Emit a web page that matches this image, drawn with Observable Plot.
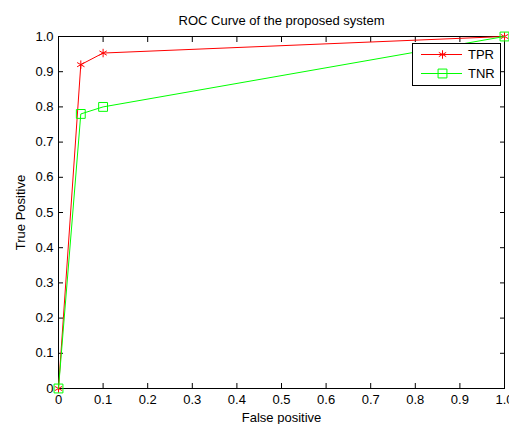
<!DOCTYPE html>
<html><head><meta charset="utf-8">
<script src="https://cdn.jsdelivr.net/npm/d3@7"></script>
<script src="https://cdn.jsdelivr.net/npm/@observablehq/plot@0.6"></script>
<style>
body{margin:0;background:#fff;}
#wrap{position:relative;width:509px;height:424px;font-family:"Liberation Sans",Arial,sans-serif;}
#legend{position:absolute;left:412px;top:43px;width:87px;height:41px;border:1px solid #000;background:#fff;}
#legend svg{position:absolute;left:0;top:0;}
</style>
</head><body><div id="wrap"></div>
<script>
const falsePositive = [0, 0.05, 0.1, 1];
const tprValues = [0, 0.92, 0.953, 1];
const tnrValues = [0, 0.78, 0.80, 1];
const seriesNames = ["TPR", "TNR"];
const tickValues = [0, 0.1, 0.2, 0.3, 0.4, 0.5, 0.6, 0.7, 0.8, 0.9, 1];
const tickLabels = ["0", "0.1", "0.2", "0.3", "0.4", "0.5", "0.6", "0.7", "0.8", "0.9", "1.0"];
const titleText = "ROC Curve of the proposed system";
const xLabel = "False positive";
const yLabel = "True Positive";

const tpr = falsePositive.map((x, i) => ({x, y: tprValues[i]}));
const tnr = falsePositive.map((x, i) => ({x, y: tnrValues[i]}));
const fmt = d => tickLabels[tickValues.findIndex(t => Math.abs(t - d) < 1e-9)];
const FS = 13;

const chart = Plot.plot({
  width: 509, height: 424,
  marginLeft: 58, marginRight: 5, marginTop: 36, marginBottom: 36,
  style: {fontFamily: '"Liberation Sans", Arial, sans-serif', fontSize: FS + "px", background: "#fff", color: "#000"},
  x: {domain: [0, 1], axis: null},
  y: {domain: [0, 1], axis: null},
  marks: [
    Plot.axisX(tickValues, {anchor: "bottom", tickSize: -5, tickPadding: 11, tickFormat: fmt, label: null, fontSize: FS}),
    Plot.axisX(tickValues, {anchor: "top", tickSize: -5, text: null, label: null}),
    Plot.axisY(tickValues, {anchor: "left", tickSize: -5, tickPadding: 10, tickFormat: fmt, label: null, fontSize: FS}),
    Plot.axisY(tickValues, {anchor: "right", tickSize: -5, text: null, label: null}),
    Plot.frame({stroke: "#000", strokeWidth: 1}),
    Plot.line(tpr, {x: "x", y: "y", stroke: "#ff0000", strokeWidth: 1}),
    Plot.dot(tpr, {x: "x", y: "y", symbol: "asterisk", stroke: "#ff0000", r: 4, strokeWidth: 1}),
    Plot.line(tnr, {x: "x", y: "y", stroke: "#00ff00", strokeWidth: 1}),
    Plot.dot(tnr, {x: "x", y: "y", symbol: "square", stroke: "#00ff00", fill: "none", r: 5, strokeWidth: 1}),
    Plot.text([titleText], {text: d => d, frameAnchor: "top", lineAnchor: "middle", textAnchor: "middle", dy: -15.5, fontSize: FS}),
    Plot.text([xLabel], {text: d => d, frameAnchor: "bottom", lineAnchor: "middle", textAnchor: "middle", dy: 29, fontSize: FS}),
    Plot.text([yLabel], {text: d => d, frameAnchor: "left", lineAnchor: "middle", textAnchor: "middle", dx: -38, rotate: -90, fontSize: FS})
  ]
});
const wrap = document.getElementById("wrap");
wrap.appendChild(chart);

// legend
const leg = document.createElement("div");
leg.id = "legend";
const colors = ["#ff0000", "#00ff00"];
const symbols = [d3.symbolAsterisk, d3.symbolSquare];
const lsvg = d3.create("svg").attr("width", 87).attr("height", 41);
seriesNames.forEach((name, i) => {
  const yy = 10.5 + i * 19;
  lsvg.append("line").attr("x1", 8).attr("x2", 49).attr("y1", yy).attr("y2", yy)
    .attr("stroke", colors[i]).attr("stroke-width", 1);
  lsvg.append("path").attr("d", d3.symbol(symbols[i], i === 0 ? Math.PI * 16 : Math.PI * 25)())
    .attr("transform", `translate(29.5,${yy})`).attr("fill", "none").attr("stroke", colors[i]);
  lsvg.append("text").attr("x", 55).attr("y", yy).attr("dy", "0.35em")
    .attr("font-size", FS).attr("font-family", '"Liberation Sans", Arial, sans-serif').text(name);
});
leg.appendChild(lsvg.node());
wrap.appendChild(leg);
</script>
</body></html>
